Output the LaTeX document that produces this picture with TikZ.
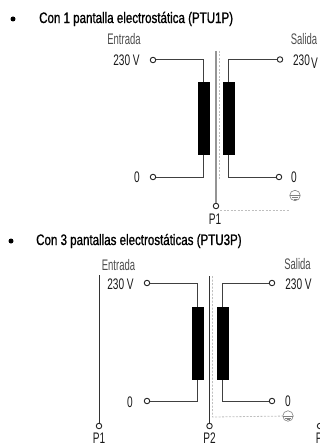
\documentclass[tikz,border=0pt]{standalone}
\usepackage{fontspec}
\setmainfont{Liberation Sans}[FakeStretch=0.66]
\newfontfamily\titlefont{Liberation Sans}[FakeStretch=0.76,FakeBold=1]
\newfontfamily\thinfont{Liberation Sans}[FakeStretch=0.62]
\tikzset{
  lab/.style={inner sep=0pt,font=\fontsize{15.3}{15}\selectfont,text=black!90},
  head/.style={inner sep=0pt,font=\thinfont\fontsize{15.3}{15}\selectfont,text=black!70},
  ttl/.style={inner sep=0pt,anchor=west,font=\titlefont\fontsize{15.2}{16}\selectfont},
  term/.style={circle,draw=black!85,line width=.9pt,fill=white,minimum size=5.5pt,inner sep=0pt},
  coil/.style={fill=black,draw=none,minimum width=12pt,minimum height=73pt,inner sep=0pt},
  wire/.style={draw=black!75,line width=1pt},
  pin/.style={draw=black!80,line width=.9pt},
  shieldg/.style={draw=black!42,line width=1.5pt},
  dots/.style={draw=black!25,line width=.8pt,dash pattern=on 2pt off 1.5pt},
  bul/.style={circle,fill=black,minimum size=5pt,inner sep=0pt},
  earth/.style={circle,draw=black!50,line width=.6pt,minimum size=10.5pt,inner sep=0pt,
    path picture={
      \draw[black!50,line width=.6pt] ([xshift=-5pt]path picture bounding box.center) -- ([xshift=5pt]path picture bounding box.center);
      \draw[black!50,line width=.6pt] ([xshift=-3pt,yshift=-1.8pt]path picture bounding box.center) -- ([xshift=3pt,yshift=-1.8pt]path picture bounding box.center);
      \draw[black!50,line width=.6pt] ([xshift=-1.5pt,yshift=-3.4pt]path picture bounding box.center) -- ([xshift=1.5pt,yshift=-3.4pt]path picture bounding box.center);
    }},
}
\begin{document}
\begin{tikzpicture}[x=1pt,y=-1pt]
\useasboundingbox (0,0) rectangle (320,444);
\clip (0,0) rectangle (320,444);
% --- first diagram
\node[bul] (b1) at (13,19) {};
\node[ttl] (t1) at (39,19) {Con 1 pantalla electrostática (PTU1P)};
\node[head] (e1) at (124,39.5) {Entrada};
\node[head] (s1) at (304,39) {Salida};
\node[lab] (v1) at (126.5,60) {230 V};
\node[lab] (v1b) at (301.5,60) {230};
\node[lab] (v1c) at (314.5,63) {V};
\node[lab] (z1) at (137,177) {0};
\node[lab] (z1b) at (294,177) {0};
\node[coil] (c1) at (203.5,118.5) {};
\node[coil] (c2) at (228.5,118.5) {};
\node[term] (a1) at (153,60) {};
\node[term] (a2) at (280,59.5) {};
\node[term] (a3) at (153,177) {};
\node[term] (a4) at (279,177) {};
\node[term] (p1) at (216,206) {};
\node[lab] (pl1) at (215,219.5) {P1};
\node[earth] (g1) at (295,195.5) {};
\coordinate (s1t) at (216,51);
\coordinate (d1t) at (219,51);
\coordinate (d1b) at (219,180);
\coordinate (d2s) at (220,210);
\coordinate (d2e) at (290,210);
\draw[wire] (a1) -| (c1.north);
\draw[wire] (a2) -| (c2.north);
\draw[wire] (a3) -| (c1.south);
\draw[wire] (a4) -| (c2.south);
\draw[shieldg] (s1t) -- (p1);
\draw[dots] (d1t) -- (d1b);
\draw[dots] (d2s) -- (d2e);
% --- second diagram
\node[bul] (b2) at (11,241) {};
\node[ttl] (t2) at (36,241) {Con 3 pantallas electrostáticas (PTU3P)};
\node[head] (e2) at (118.5,265) {Entrada};
\node[head] (s2) at (297.5,264) {Salida};
\node[lab] (v2) at (120.5,284) {230 V};
\node[lab] (v2b) at (298.5,284) {230 V};
\node[lab] (z2) at (130,402) {0};
\node[lab] (z2b) at (288,401) {0};
\node[coil] (c3) at (197.5,343.5) {};
\node[coil] (c4) at (222.5,343.5) {};
\node[term] (a5) at (147,283) {};
\node[term] (a6) at (272,283) {};
\node[term] (a7) at (147,401) {};
\node[term] (a8) at (272,401) {};
\node[term] (p2) at (99,426) {};
\node[term] (p3) at (209.5,426) {};
\node[term] (p4) at (320,426) {};
\node[lab,anchor=base] (pl2) at (99,443.5) {P1};
\node[lab,anchor=base] (pl3) at (209.5,443.5) {P2};
\node[lab,anchor=base west] (pl4) at (315.7,443.5) {P};
\node[earth] (g2) at (288,416) {};
\coordinate (l2t) at (99,275);
\coordinate (m2t) at (209.5,276);
\coordinate (d3t) at (212.5,276);
\coordinate (d3c) at (212.5,417);
\draw[wire] (a5) -| (c3.north);
\draw[wire] (a6) -| (c4.north);
\draw[wire] (a7) -| (c3.south);
\draw[wire] (a8) -| (c4.south);
\draw[pin] (l2t) -- (p2);
\draw[pin] (m2t) -- (p3);
\draw[dots] (d3t) -- (d3c) -- (g2);
\end{tikzpicture}
\end{document}
